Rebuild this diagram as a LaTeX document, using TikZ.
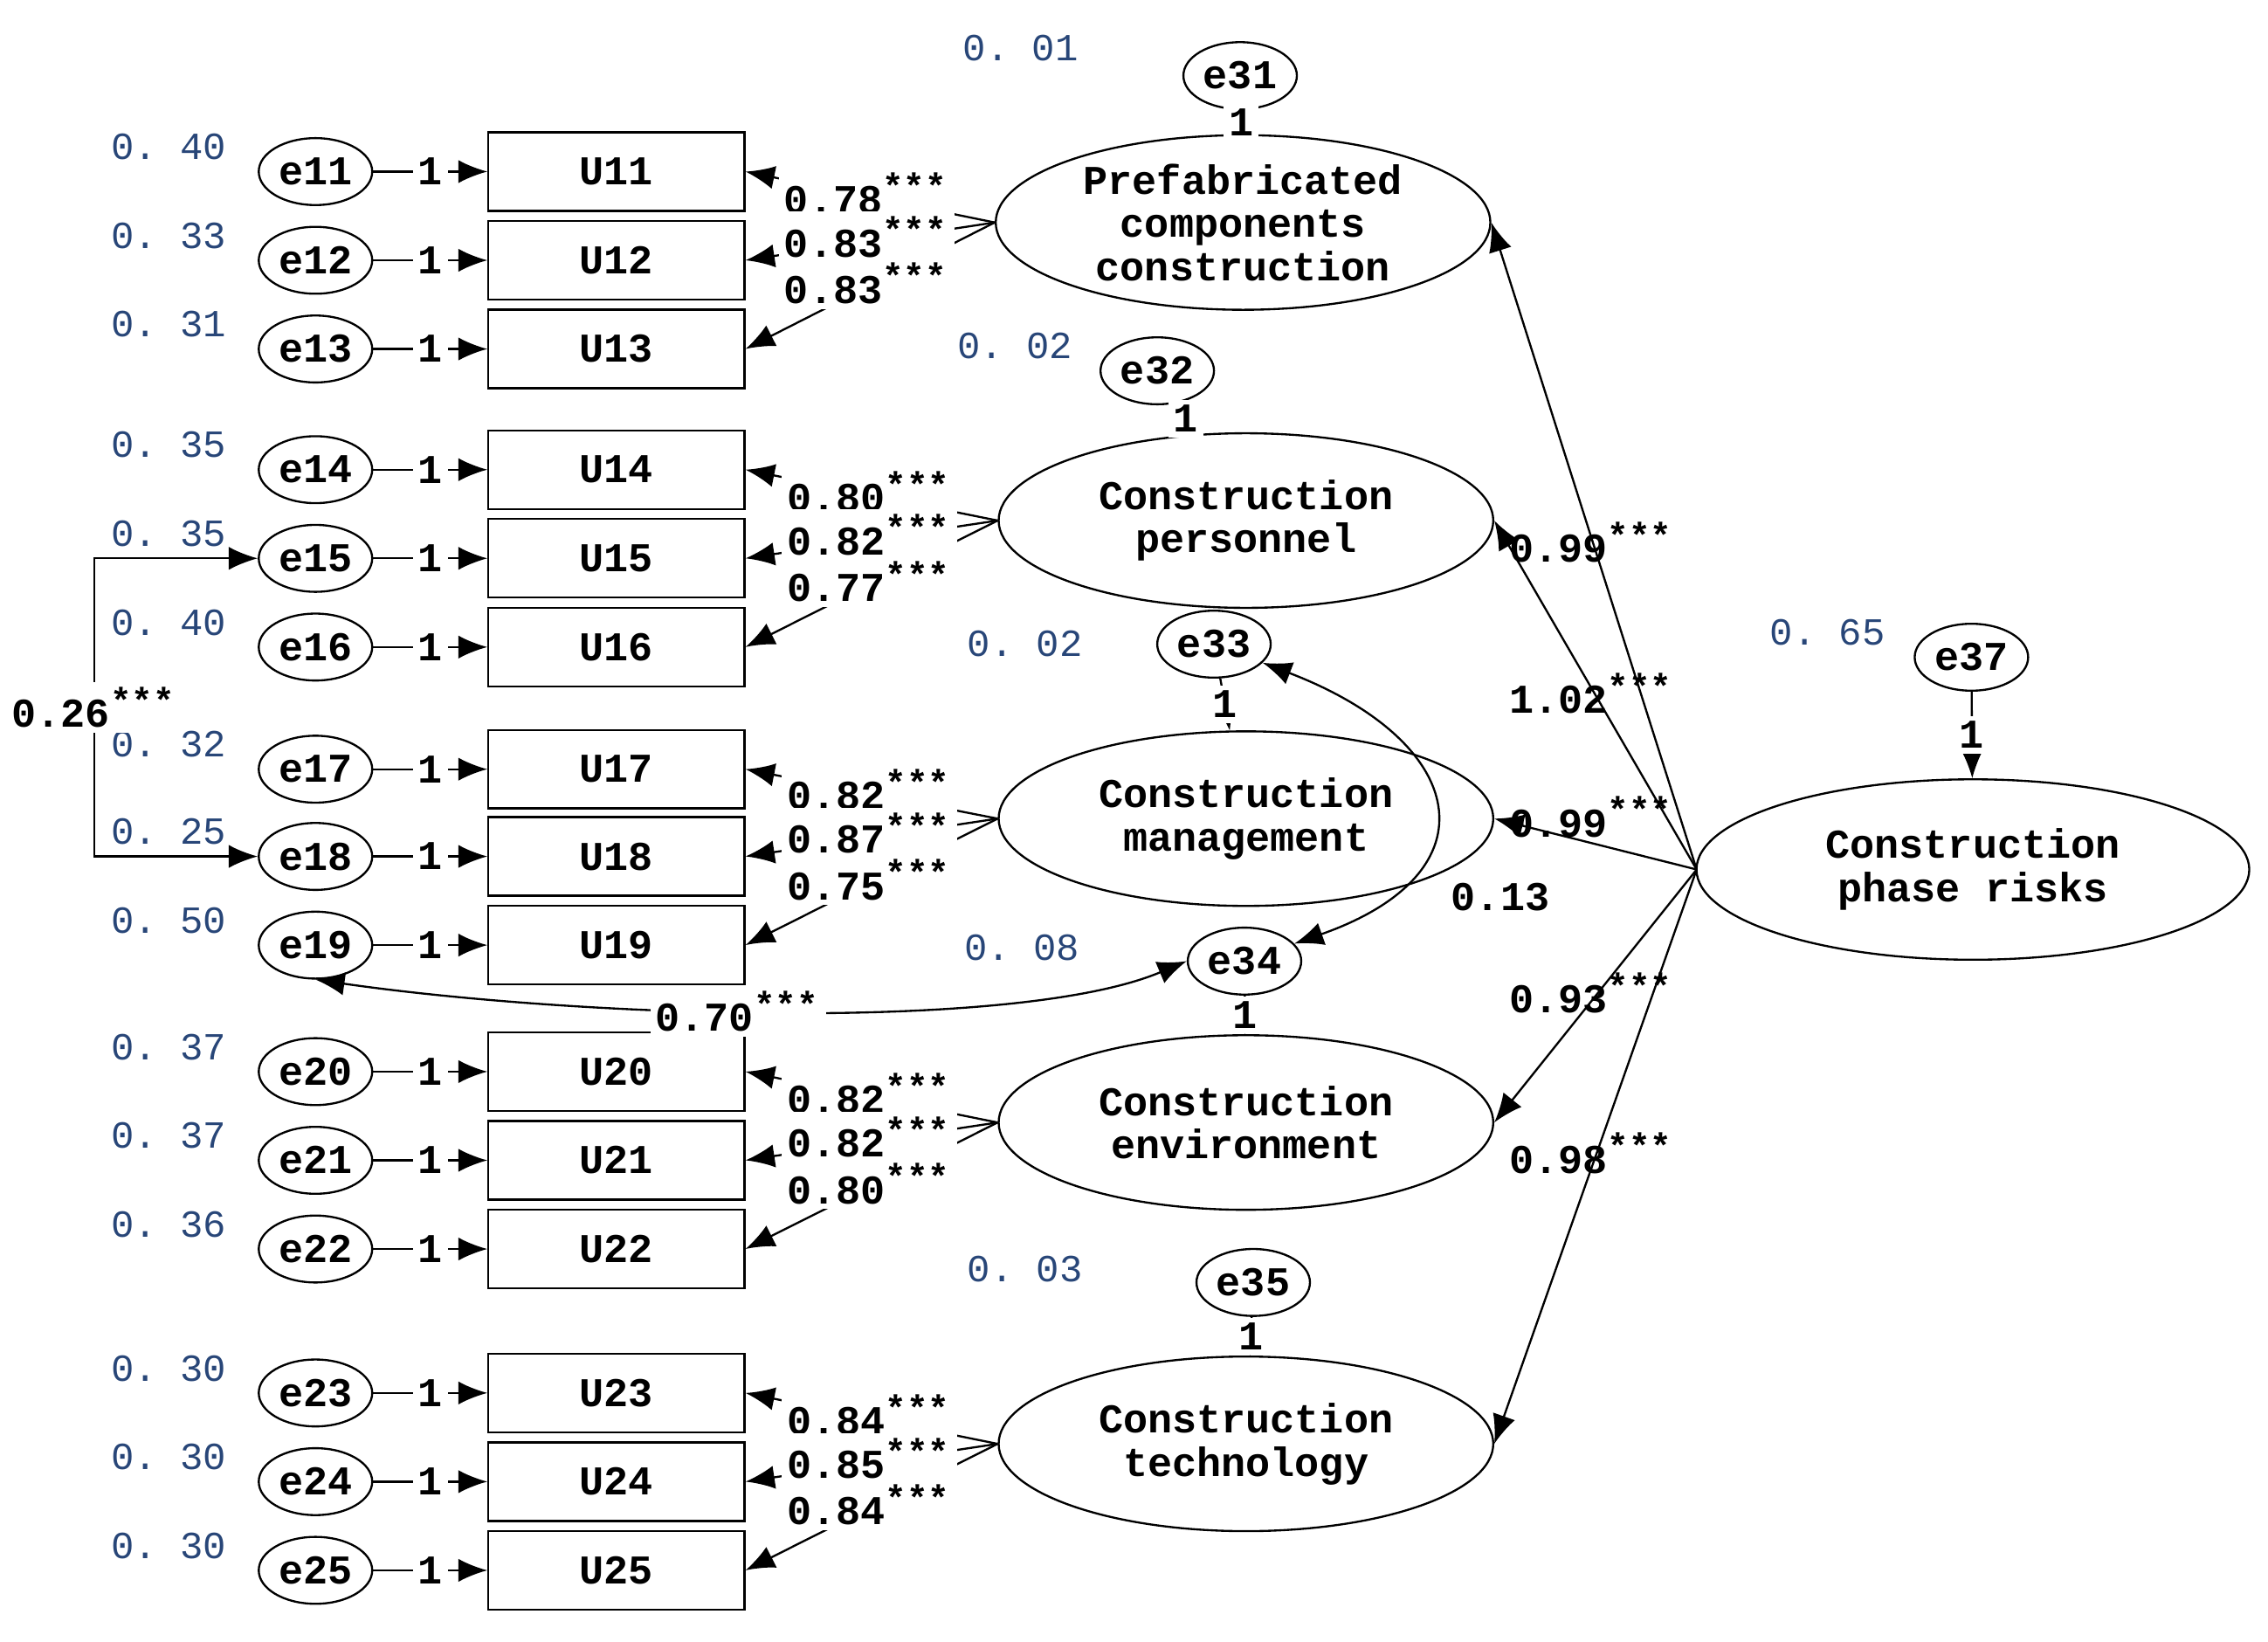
\documentclass[tikz,border=0pt]{standalone}
\usepackage{fontspec}
\setmonofont{Liberation Mono}
\usetikzlibrary{shapes.geometric,arrows.meta}
\definecolor{varblue}{RGB}{40,70,120}
\tikzset{
  err/.style={ellipse, draw, minimum width=0.78cm, minimum height=0.46cm, inner sep=0pt, font=\ttfamily\bfseries\fontsize{8}{9}\selectfont},
  obs/.style={rectangle, draw, minimum width=1.76cm, minimum height=0.54cm, font=\ttfamily\bfseries\fontsize{8}{9}\selectfont},
  lat/.style={ellipse, draw, minimum width=3.4cm, minimum height=1.2cm, align=center, inner sep=0pt, font=\ttfamily\bfseries\fontsize{8}{8.5}\selectfont},
  lbl/.style={font=\ttfamily\bfseries\fontsize{8}{9}\selectfont, inner sep=1pt},
  var/.style={font=\ttfamily\fontsize{7.5}{9}\selectfont, text=varblue},
  arr/.style={-{Latex[length=2mm,width=1.6mm]}},
  dbl/.style={{Latex[length=2mm,width=1.6mm]}-{Latex[length=2mm,width=1.6mm]}},
}
\newcommand{\sig}[1]{#1\textsuperscript{\scriptsize***}}
\begin{document}
\begin{tikzpicture}[x=0.01cm,y=-0.01cm]
\useasboundingbox (0,0) rectangle (1560,1129);

% indicators: error, box, variance
\foreach \i/\y/\v in {11/118/0. 40,12/179/0. 33,13/240/0. 31,14/323/0. 35,15/384/0. 35,16/445/0. 40,
  17/529/0. 32,18/589/0. 25,19/650/0. 50,20/737/0. 37,21/798/0. 37,22/859/0. 36,23/958/0. 30,24/1019/0. 30,25/1080/0. 30}{
  \node[err] (e\i) at (217,\y) {e\i};
  \node[obs] (u\i) at (424,\y) {U\i};
  \node[var] (v\i) at (116,\y-17) {\v};
  \draw[arr] (e\i) -- node[lbl,fill=white] {1} (u\i);
}

% latent factors
\node[lat] (f1) at (855,153) {Prefabricated\\components\\construction};
\node[lat] (f2) at (857,358) {Construction\\personnel};
\node[lat] (f3) at (857,563) {Construction\\management};
\node[lat] (f4) at (857,772) {Construction\\environment};
\node[lat] (f5) at (857,993) {Construction\\technology};
\node[lat, minimum width=3.8cm, minimum height=1.24cm] (risk) at (1357,598) {Construction\\phase risks};

% loadings
\foreach \f/\a/\b/\c/\la/\lb/\lc in {f1/11/12/13/0.78/0.83/0.83, f2/14/15/16/0.80/0.82/0.77,
  f3/17/18/19/0.82/0.87/0.75, f4/20/21/22/0.82/0.82/0.80, f5/23/24/25/0.84/0.85/0.84}{
  \draw[arr] (\f.west) -- (u\a.east);
  \draw[arr] (\f.west) -- (u\b.east);
  \draw[arr] (\f.west) -- (u\c.east);
  \node[lbl, fill=white] at ([shift={(-88,-20)}]\f.west) {\sig{\la}};
  \node[lbl, fill=white] at ([shift={(-88,10)}]\f.west) {\sig{\lb}};
  \node[lbl, fill=white] at ([shift={(-88,42)}]\f.west) {\sig{\lc}};
}

% disturbances
\foreach \n/\f/\x/\y/\v/\vx/\vy in {31/f1/853/52/0. 01/702/33, 32/f2/796/255/0. 02/698/238,
  33/f3/835/443/0. 02/705/443, 34/f4/856/661/0. 08/703/652, 35/f5/862/882/0. 03/705/873, 37/risk/1356/452/0. 65/1257/435}{
  \node[err] (e\n) at (\x,\y) {e\n};
  \node[var] at (\vx,\vy) {\v};
  \draw[arr] (e\n) -- node[lbl,fill=white] {1} (\f);
}

% structural paths
\coordinate (r0) at (1167,598);
\draw[arr] (r0) -- (f1.east);
\draw[arr] (r0) -- (f2.east);
\draw[arr] (r0) -- (f3.east);
\draw[arr] (r0) -- (f4.east);
\draw[arr] (r0) -- (f5.east);
\node[lbl] at (1095,373) {\sig{0.99}};
\node[lbl] at (1095,477) {\sig{1.02}};
\node[lbl] at (1095,562) {\sig{0.99}};
\node[lbl] at (1095,683) {\sig{0.93}};
\node[lbl] at (1095,793) {\sig{0.98}};

% covariances
\draw[dbl] (e33) .. controls (1010,510) and (1030,600) .. (e34);
\node[lbl] at (1032,617) {0.13};
\draw[dbl] (e19.south) .. controls (400,700) and (700,710) .. (e34.west) node[lbl, pos=0.45, fill=white] {\sig{0.70}};
\coordinate (c15) at (65,384);
\coordinate (c18) at (65,589);
\draw[dbl] (e15) -- (c15) -- node[lbl, fill=white] {\sig{0.26}} (c18) -- (e18);
\end{tikzpicture}
\end{document}
